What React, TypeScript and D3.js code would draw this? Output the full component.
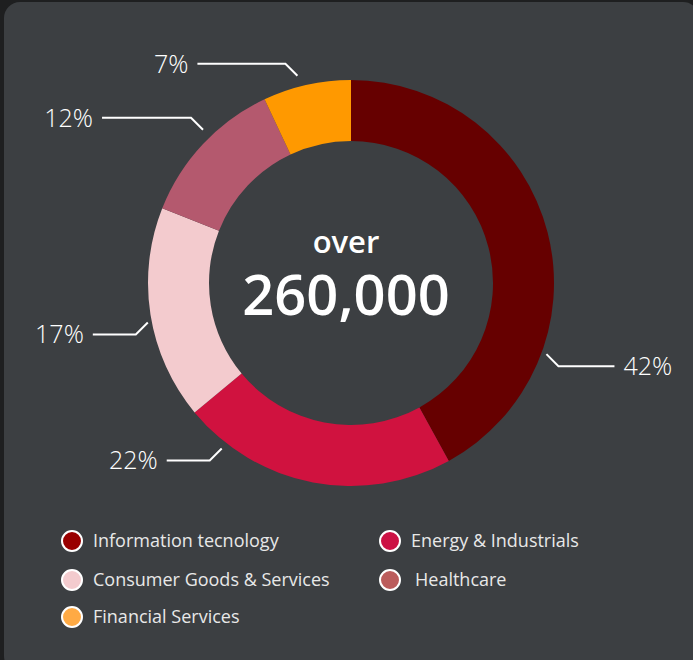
import React, { useEffect, useRef } from 'react';
import * as d3 from 'd3';

// chart data
const sectors = ['Information tecnology', 'Energy & Industrials', 'Consumer Goods & Services', 'Healthcare', 'Financial Services'];
const shares = [42, 22, 17, 12, 7];
const totalLabel = '260,000';
const totalPrefix = 'over';

// styling
const sliceColors = ['#660000', '#d0123f', '#f3cbce', '#b4596e', '#ff9900'];
const legendColors = ['#990000', '#cc1144', '#f3cbce', '#bb5c5c', '#ffaa44'];
// where each leader line touches the ring (degrees from 12 o'clock), gap off the ring, horizontal run
const leaderAngle = [110, 218, 259, 316, 345.5];
const leaderGap = [5, 7, 4, 10, 11];
const leaderRun = [56, 43, 43, 89, 88];

const W = 693;
const H = 660;
const FONT = '"Open Sans", "Noto Sans", sans-serif';

const App = () => {
  const ref = useRef<SVGSVGElement>(null);

  useEffect(() => {
    const svg = d3.select(ref.current);
    svg.selectAll('*').remove();

    svg.append('rect').attr('width', W).attr('height', H).attr('fill', '#1e1f20');
    svg.append('rect')
      .attr('x', 4).attr('y', 2)
      .attr('width', W + 2).attr('height', H + 10)
      .attr('rx', 16)
      .attr('fill', '#3c3f42');

    const cx = 351, cy = 283;
    const outerR = 203, innerR = 142;
    const data = sectors.map((s, i) => ({ name: s, value: shares[i], i }));

    const pie = d3.pie<any>().value(d => d.value).sort(null)(data);
    const arc = d3.arc<any>().innerRadius(innerR).outerRadius(outerR);

    const g = svg.append('g').attr('transform', `translate(${cx},${cy})`);
    g.selectAll('path')
      .data(pie)
      .join('path')
      .attr('d', arc)
      .attr('fill', d => sliceColors[d.data.i]);

    // leader lines + percentages
    const lab = g.append('g');
    pie.forEach((d, i) => {
      const a = (leaderAngle[i] * Math.PI) / 180;
      const r = outerR + leaderGap[i];
      const x0 = Math.sin(a) * r;
      const y0 = -Math.cos(a) * r;
      const sx = x0 >= 0 ? 1 : -1;
      const sy = y0 >= 0 ? 1 : -1;
      const x1 = x0 + sx * 12;
      const y1 = y0 + sy * 12;
      const x2 = x1 + sx * leaderRun[i];
      lab.append('polyline')
        .attr('points', `${x0},${y0} ${x1},${y1} ${x2},${y1}`)
        .attr('fill', 'none')
        .attr('stroke', '#ffffff')
        .attr('stroke-width', 2);
      lab.append('text')
        .attr('x', x2 + sx * 9)
        .attr('y', y1 + 9)
        .attr('text-anchor', sx > 0 ? 'start' : 'end')
        .attr('font-family', FONT)
        .attr('font-weight', 300)
        .attr('font-size', 25)
        .attr('fill', '#ffffff')
        .text(`${d.data.value}%`);
    });

    // centre text
    g.append('text')
      .attr('x', -5)
      .attr('y', -30)
      .attr('text-anchor', 'middle')
      .attr('font-family', FONT)
      .attr('font-weight', 600)
      .attr('font-size', 31)
      .attr('fill', '#ffffff')
      .text(totalPrefix);
    g.append('text')
      .attr('x', -5)
      .attr('y', 32)
      .attr('text-anchor', 'middle')
      .attr('font-family', FONT)
      .attr('font-weight', 600)
      .attr('font-size', 56)
      .attr('fill', '#ffffff')
      .text(totalLabel);

    // legend, two columns
    const legend = svg.append('g');
    sectors.forEach((s, i) => {
      const col = i % 2;
      const row = Math.floor(i / 2);
      const lx = col === 0 ? 72 : 390;
      const ly = [541, 580, 617][row];
      legend.append('circle')
        .attr('cx', lx).attr('cy', ly).attr('r', 10)
        .attr('fill', legendColors[i])
        .attr('stroke', '#ffffff')
        .attr('stroke-width', 2);
      legend.append('text')
        .attr('x', lx + 21 + (i === 3 ? 4 : 0))
        .attr('y', ly + 6)
        .attr('font-family', FONT)
        .attr('font-size', 18)
        .attr('fill', '#e8e8e8')
        .text(s);
    });
  }, []);

  return (
    <svg ref={ref} width={W} height={H} style={{ position: 'absolute', left: 0, top: 0, display: 'block' }} />
  );
};

export default App;
